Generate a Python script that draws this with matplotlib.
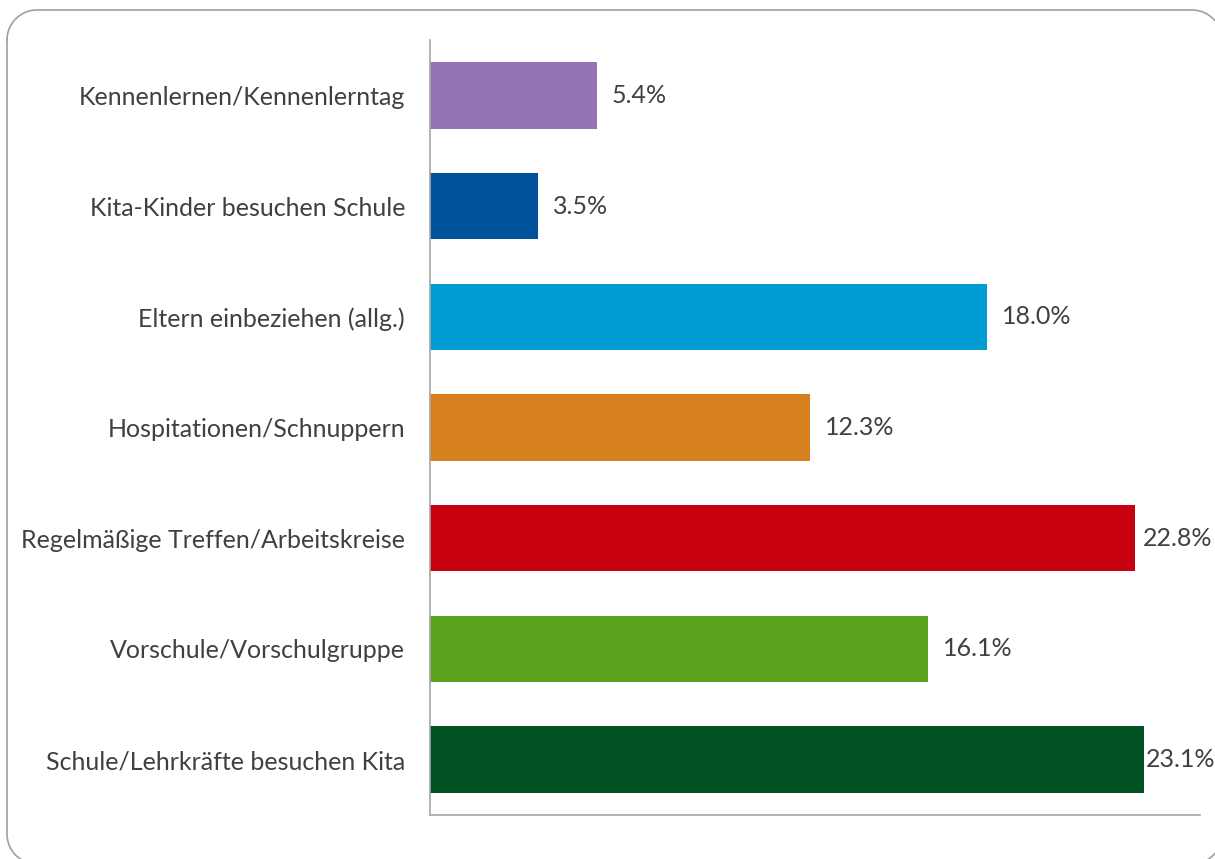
import matplotlib
matplotlib.use("Agg")
import matplotlib.pyplot as plt
import numpy as np
from matplotlib.lines import Line2D
from matplotlib.transforms import IdentityTransform

categories = [
    "Kennenlernen/Kennenlerntag",
    "Kita-Kinder besuchen Schule",
    "Eltern einbeziehen (allg.)",
    "Hospitationen/Schnuppern",
    "Regelmäßige Treffen/Arbeitskreise",
    "Vorschule/Vorschulgruppe",
    "Schule/Lehrkräfte besuchen Kita",
]
values = [5.4, 3.5, 18.0, 12.3, 22.8, 16.1, 23.1]
value_labels = ["5.4%", "3.5%", "18.0%", "12.3%", "22.8%", "16.1%", "23.1%"]
colors = ["#9474B4", "#00529B", "#009DD4", "#D7801F", "#C8000F", "#5BA31C", "#005222"]

W, H = 1215, 859
plt.rcParams['font.family'] = ['Lato', 'DejaVu Sans']
fig = plt.figure(figsize=(W / 100, H / 100), dpi=100)

# rounded frame drawn in pixel coordinates (top-left origin converted)
def arc(cx, cy, r, a0, a1):
    t = np.linspace(np.radians(a0), np.radians(a1), 30)
    return list(cx + r * np.cos(t)), list(cy + r * np.sin(t))

L, T, R, B, r = 7, 10, 1222, 864, 30
xs, ys = [], []
# top edge + top-right corner + right edge + bottom-right + bottom + bottom-left + left + top-left
ax_, ay_ = arc(L + r, T + r, r, 180, 270); xs += ax_; ys += ay_
ax_, ay_ = arc(R - r, T + r, r, 270, 360); xs += ax_; ys += ay_
ax_, ay_ = arc(R - r, B - r, r, 0, 90); xs += ax_; ys += ay_
ax_, ay_ = arc(L + r, B - r, r, 90, 180); xs += ax_; ys += ay_
xs.append(xs[0]); ys.append(ys[0])
ys_disp = [H - y for y in ys]
fig.lines.append(Line2D(xs, ys_disp, transform=IdentityTransform(),
                        color="#A0A0A0", linewidth=1.2))

ax = fig.add_axes([430 / W, 1 - 815 / H, (1200 - 430) / W, (815 - 40) / H])
ypos = list(range(len(categories)))
ax.barh(ypos, values, height=0.6, color=colors)
ax.set_ylim(len(categories) - 0.5, -0.5)
ax.set_xlim(0, 24.9)
ax.set_yticks(ypos)
ax.set_yticklabels(categories, fontsize=18, color="#404040")
ax.tick_params(axis="y", length=0, pad=18)
ax.set_xticks([])
for s in ["top", "right"]:
    ax.spines[s].set_visible(False)
for s in ["left", "bottom"]:
    ax.spines[s].set_color("#A6A6A6")
    ax.spines[s].set_linewidth(1.2)

for y, v, lab in zip(ypos, values, value_labels):
    off = 15 if v < 20 else (8 if v < 23 else 2)
    ax.annotate(lab, (v, y), xytext=(off, 0), textcoords="offset pixels",
                ha="left", va="center", fontsize=18, color="#404040",
                annotation_clip=False)

fig.savefig("out.png", dpi=100)
